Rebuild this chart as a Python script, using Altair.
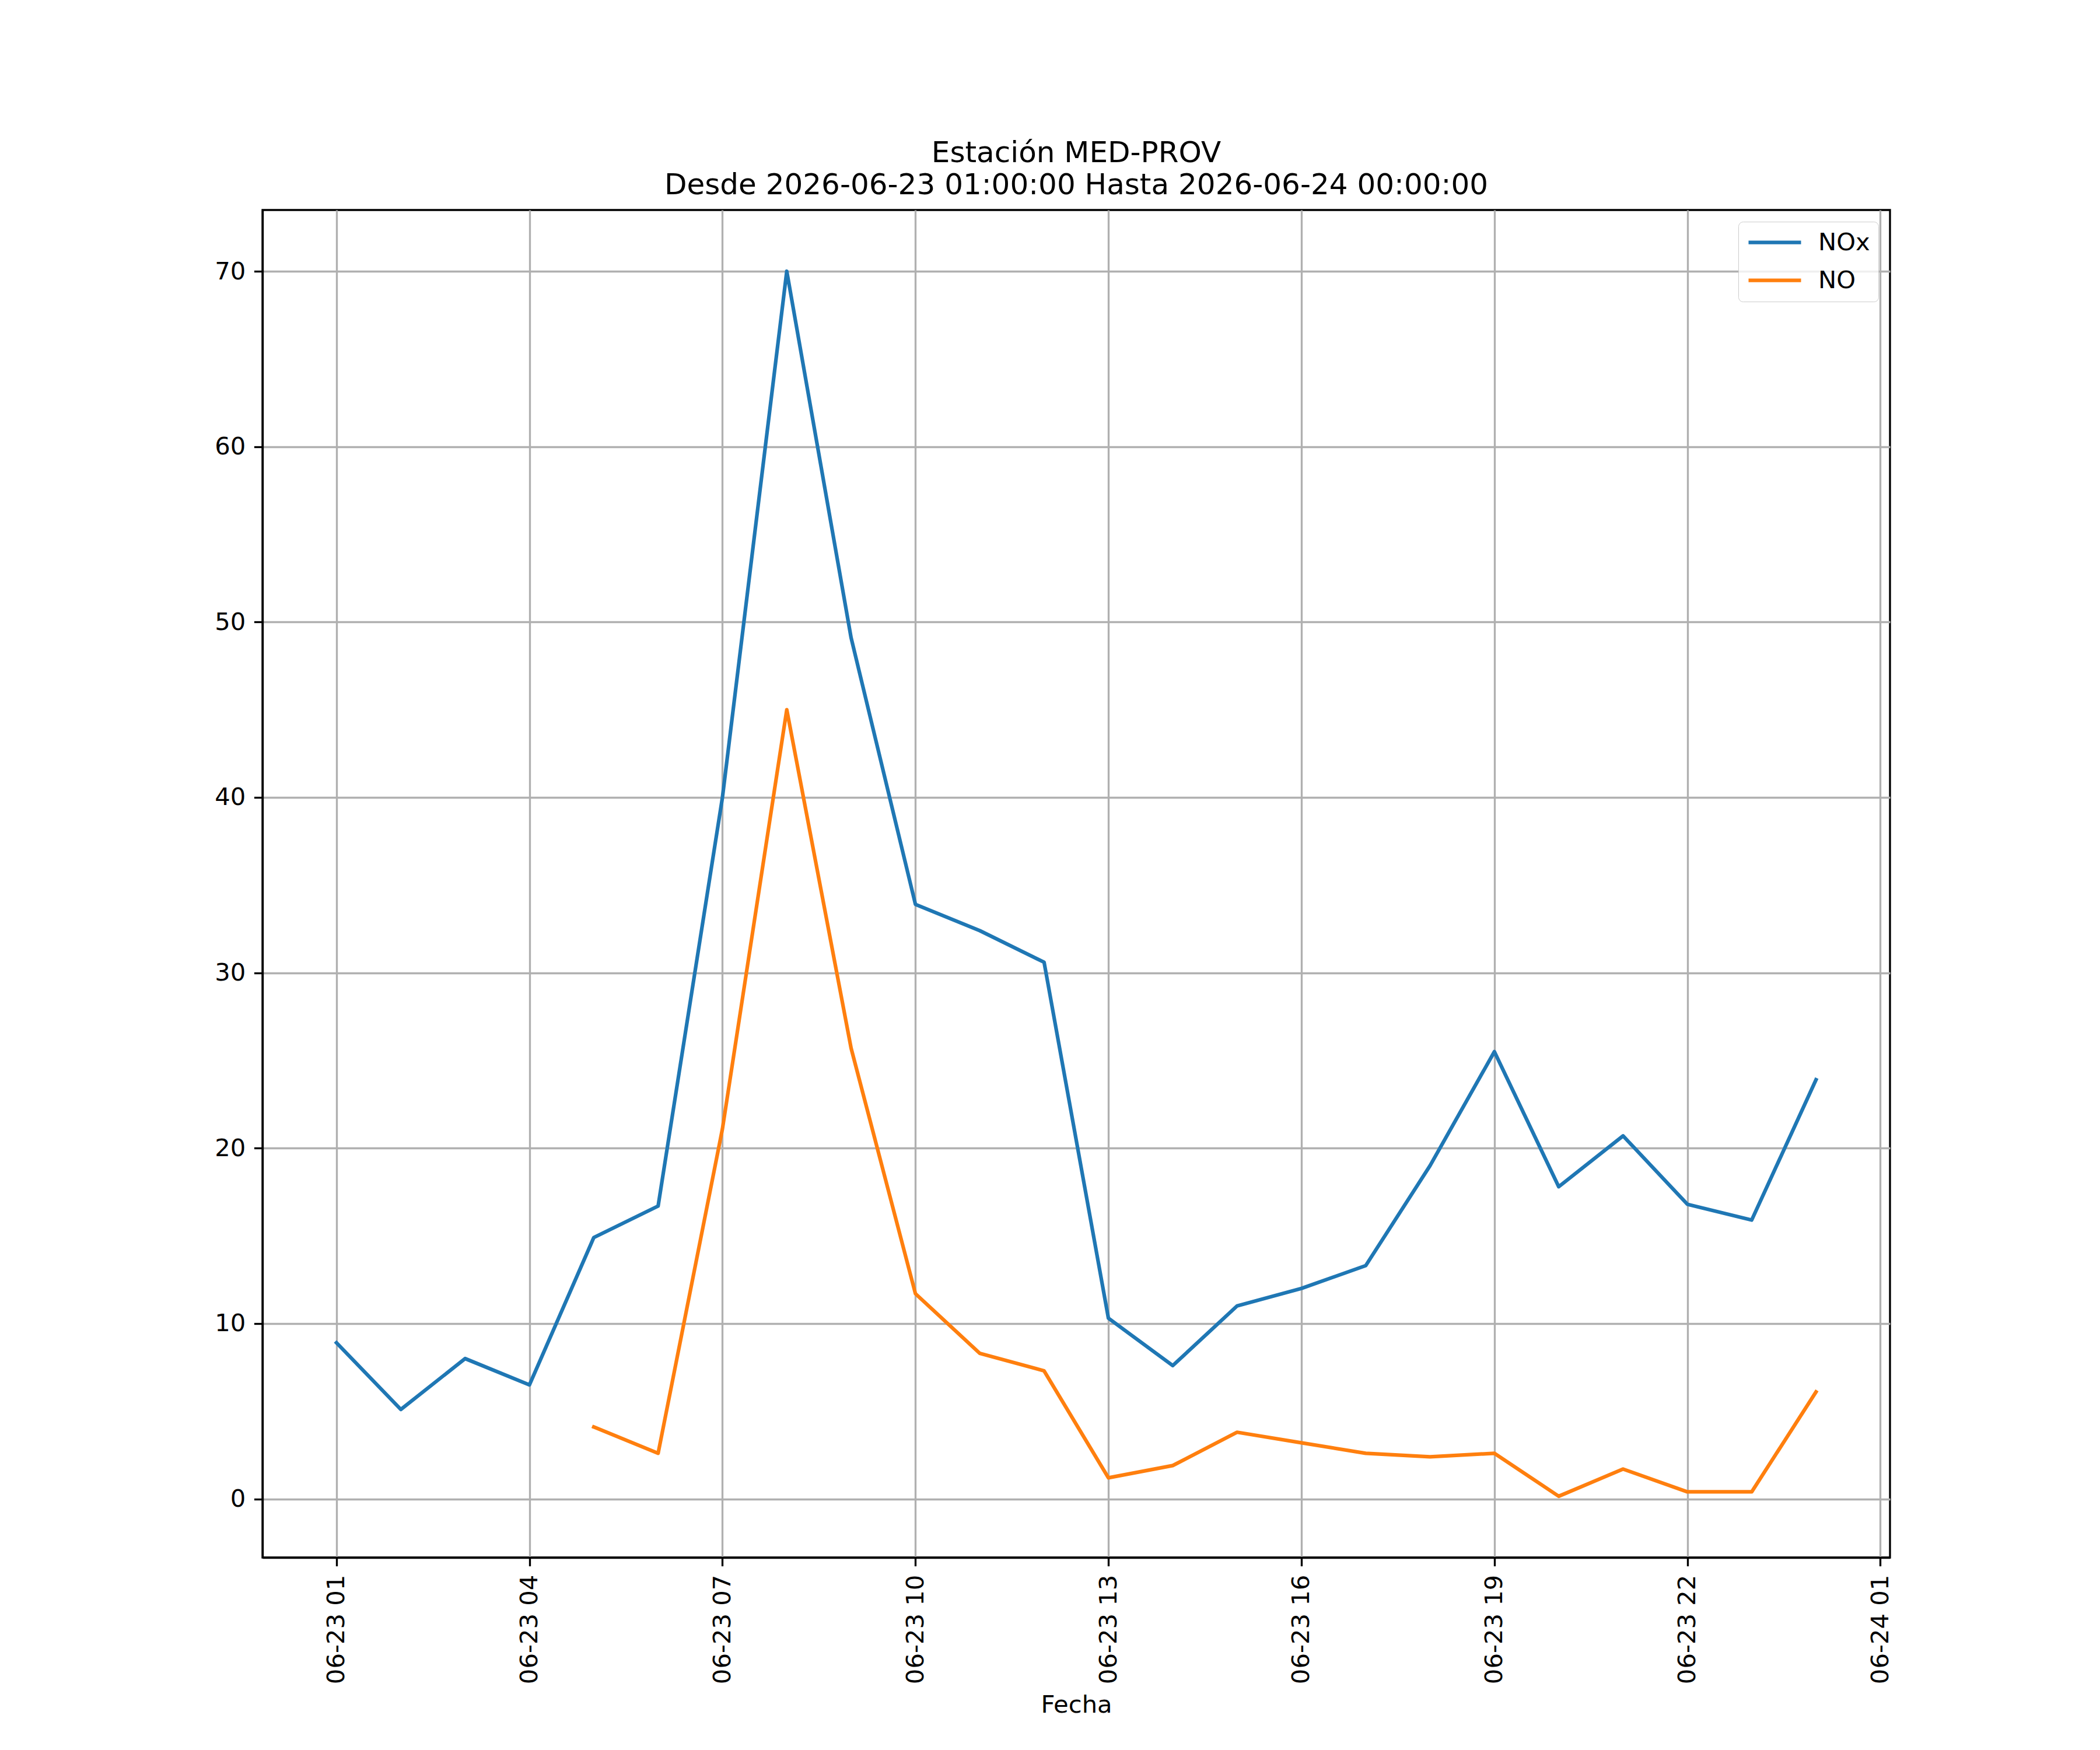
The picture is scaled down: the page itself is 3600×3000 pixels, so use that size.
import altair as alt
import pandas as pd

# ---- data ----
times = [f"2026-06-23T{h:02d}:00:00Z" for h in range(1, 24)] + ["2026-06-24T00:00:00Z"]
nox = [8.9, 5.1, 8.0, 6.5, 14.9, 16.7, 40.0, 70.0, 49.1, 33.9, 32.4, 30.6,
       10.3, 7.6, 11.0, 12.0, 13.3, 19.0, 25.5, 17.8, 20.7, 16.8, 15.9, 23.9]
no = [None, None, None, None, 4.1, 2.6, 21.1, 45.0, 25.7, 11.7, 8.3, 7.3,
      1.2, 1.9, 3.8, 3.2, 2.6, 2.4, 2.6, 0.15, 1.7, 0.4, 0.4, 6.1]
series = ["NOx", "NO"]
colors = ["#1f77b4", "#ff7f0e"]
tick_hours = [(23, 1), (23, 4), (23, 7), (23, 10), (23, 13), (23, 16), (23, 19), (23, 22), (24, 1)]
title_lines = ["Estación MED-PROV", "Desde 2026-06-23 01:00:00 Hasta 2026-06-24 00:00:00"]

rows = []
for t, a, b in zip(times, nox, no):
    rows.append({"Fecha": t, "serie": "NOx", "valor": a})
    rows.append({"Fecha": t, "serie": "NO", "valor": b})
df = pd.DataFrame(rows)

# matplotlib-like 5% margins
vals = [v for v in nox + no if v is not None]
lo, hi = min(vals), max(vals)
pad = 0.05 * (hi - lo)
ydom = [lo - pad, hi + pad]
# data spans 23 h -> 5% = 69 min on each side
xdom = [alt.DateTime(year=2026, month=6, date=22, hours=23, minutes=51, utc=True),
        alt.DateTime(year=2026, month=6, date=24, hours=1, minutes=9, utc=True)]
xticks = [alt.DateTime(year=2026, month=6, date=d, hours=h, utc=True) for d, h in tick_hours]

FONT = "DejaVu Sans"
FS = 41.7

chart = alt.Chart(df).mark_line(
    strokeWidth=6.25, strokeJoin="round", strokeCap="square"
).encode(
    x=alt.X("Fecha:T",
            scale=alt.Scale(type="utc", domain=xdom),
            axis=alt.Axis(values=xticks,
                          labelExpr="utcFormat(datum.value, '%m-%d %H')",
                          labelAngle=270, labelAlign="right", labelBaseline="middle",
                          labelLimit=0,
                          title="Fecha", titlePadding=32, labelOverlap=False,
                          labelFlush=False)),
    y=alt.Y("valor:Q",
            scale=alt.Scale(domain=ydom, nice=False, zero=False),
            axis=alt.Axis(values=list(range(0, 80, 10)), title=None, labelFlush=False)),
    color=alt.Color("serie:N",
                    scale=alt.Scale(domain=series, range=colors),
                    legend=alt.Legend(title=None, orient="none", legendX=2530, legendY=20,
                                      symbolType="M-1,0H4", symbolSize=1296,
                                      symbolStrokeWidth=6.25, labelOffset=80,
                                      labelFontSize=FS, labelFont=FONT, labelColor="black",
                                      padding=14, strokeColor="#cccccc",
                                      fillColor="rgba(255,255,255,0.8)",
                                      cornerRadius=8, rowPadding=21)),
).properties(
    width=2790,
    height=2310,
    title=alt.TitleParams(text=title_lines, anchor="middle", frame="group",
                          fontSize=50, font=FONT, fontWeight="normal", color="black",
                          lineHeight=55, baseline="alphabetic", offset=-23),
    autosize=alt.AutoSizeParams(type="none"),
    padding={"left": 442, "top": 352, "right": 352, "bottom": 322},
    background="white",
).configure_view(
    stroke="black", strokeWidth=3.33
).configure_axis(
    domainColor="black", domainWidth=3.33,
    tickColor="black", tickWidth=3.33, tickSize=14.6,
    labelPadding=14.6, labelFontSize=FS, labelFont=FONT, labelColor="black",
    titleFontSize=FS, titleFont=FONT, titleFontWeight="normal", titleColor="black",
    gridColor="#b0b0b0", gridWidth=3.33, grid=True,
)

chart.save("out.html", embed_options={"renderer": "svg", "actions": False})
